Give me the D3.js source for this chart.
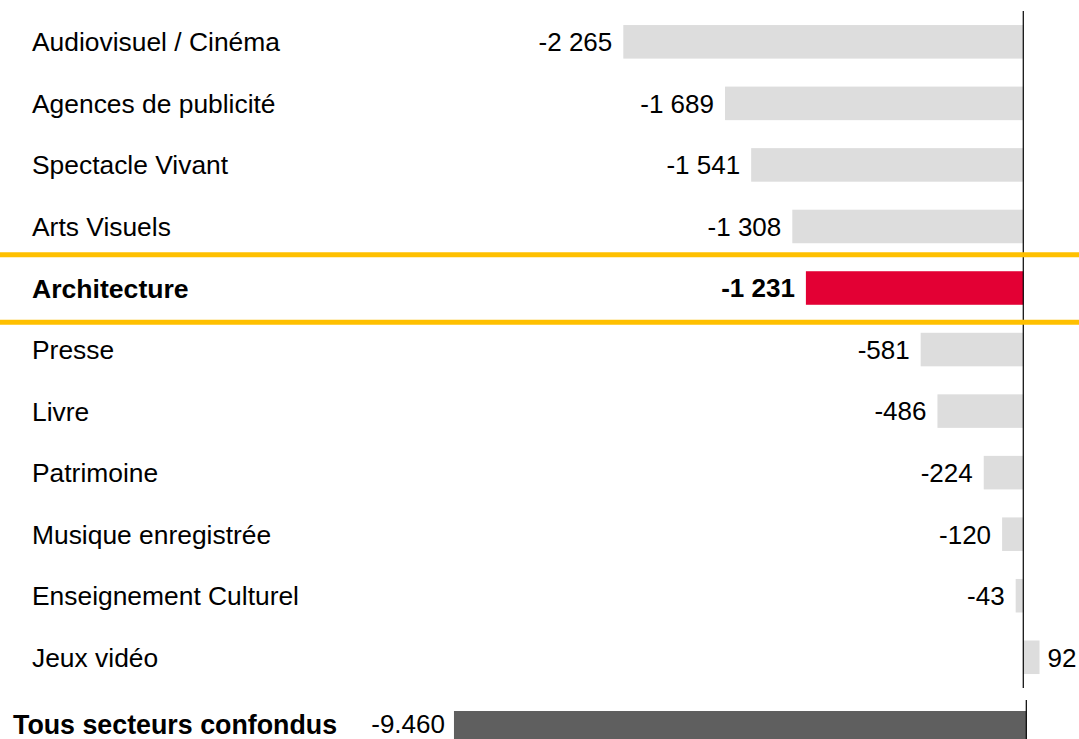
<!DOCTYPE html>
<html>
<head>
<meta charset="utf-8">
<script src="https://cdn.jsdelivr.net/npm/d3@7"></script>
<style>
  html, body { margin: 0; padding: 0; background: #ffffff; }
  svg { display: block; }
  text { font-family: "Liberation Sans", Arial, sans-serif; font-size: 26px; fill: #000; }
</style>
</head>
<body>
<svg id="chart" width="1079" height="739"></svg>
<script>
// ---- data ----
const categories = [
  "Audiovisuel / Cinéma",
  "Agences de publicité",
  "Spectacle Vivant",
  "Arts Visuels",
  "Architecture",
  "Presse",
  "Livre",
  "Patrimoine",
  "Musique enregistrée",
  "Enseignement Culturel",
  "Jeux vidéo"
];
const values = [-2265, -1689, -1541, -1308, -1231, -581, -486, -224, -120, -43, 92];
const highlighted = ["Architecture"];
const totalLabel = ["Tous secteurs confondus"];
const totalValue = [-9460];

// ---- layout ----
const W = 1079, H = 739;
const svg = d3.select("#chart");

const x = d3.scaleLinear().domain([-2500, 200]).range([581.8, 1058.6]);
const y = d3.scaleBand().domain(categories).range([10.9, 688.2]).paddingInner(0.455).paddingOuter(0.23);
const x2 = d3.scaleLinear().domain([-10000, 0]).range([421.3, 1026.3]);

const fmt = d3.formatLocale({decimal: ",", thousands: "\u00a0", grouping: [3], currency: ["", ""], minus: "-"}).format(",d");
const fmtTotal = d3.formatLocale({decimal: ",", thousands: ".", grouping: [3], currency: ["", ""], minus: "-"}).format(",d");

const data = categories.map((c, i) => ({cat: c, v: values[i], hi: highlighted.includes(c)}));

// highlight band lines
const hiCat = highlighted[0];
const yTopLine = y(hiCat) - 16.5;
const yBotLine = y(hiCat) + y.bandwidth() + 17.5;

// bars
svg.append("g").selectAll("rect").data(data).join("rect")
  .attr("x", d => x(Math.min(0, d.v)))
  .attr("width", d => Math.abs(x(d.v) - x(0)))
  .attr("y", d => y(d.cat))
  .attr("height", y.bandwidth())
  .attr("fill", d => d.hi ? "#E30034" : "#DDDDDD");

// category labels
svg.append("g").selectAll("text").data(data).join("text")
  .attr("x", 32)
  .attr("y", d => y(d.cat) + y.bandwidth() / 2)
  .attr("dy", "0.36em")
  .attr("font-weight", d => d.hi ? "bold" : "normal")
  .style("font-size", d => d.hi ? "26.6px" : "26.4px")
  .text(d => d.cat);

// value labels
svg.append("g").selectAll("text").data(data).join("text")
  .attr("x", d => d.v < 0 ? x(d.v) - 11 : x(d.v) + 8)
  .attr("y", d => y(d.cat) + y.bandwidth() / 2)
  .attr("dy", "0.36em")
  .attr("text-anchor", d => d.v < 0 ? "end" : "start")
  .attr("font-weight", d => d.hi ? "bold" : "normal")
  .text(d => fmt(d.v));

// zero axis
svg.append("line")
  .attr("x1", x(0)).attr("x2", x(0))
  .attr("y1", 11).attr("y2", 688)
  .attr("stroke", "#000").attr("stroke-width", 1.2);

// yellow highlight lines
svg.append("g").selectAll("line").data([yTopLine, yBotLine]).join("line")
  .attr("x1", 0).attr("x2", W)
  .attr("y1", d => d).attr("y2", d => d)
  .attr("stroke", "#FFC000").attr("stroke-width", 5);

// total row
const totalCenter = 724;
svg.append("rect")
  .attr("x", x2(totalValue[0]))
  .attr("width", x2(0) - x2(totalValue[0]))
  .attr("y", 711)
  .attr("height", 34)
  .attr("fill", "#5F5F5F");

svg.append("line")
  .attr("x1", x2(0)).attr("x2", x2(0))
  .attr("y1", 700).attr("y2", H)
  .attr("stroke", "#000").attr("stroke-width", 1.2);

svg.append("text")
  .attr("x", 13)
  .attr("y", totalCenter)
  .attr("dy", "0.36em")
  .attr("font-weight", "bold")
  .style("font-size", "26.8px")
  .text(totalLabel[0]);

svg.append("text")
  .attr("x", x2(totalValue[0]) - 9)
  .attr("y", totalCenter)
  .attr("dy", "0.36em")
  .attr("text-anchor", "end")
  .text(fmtTotal(totalValue[0]));
</script>
</body>
</html>
